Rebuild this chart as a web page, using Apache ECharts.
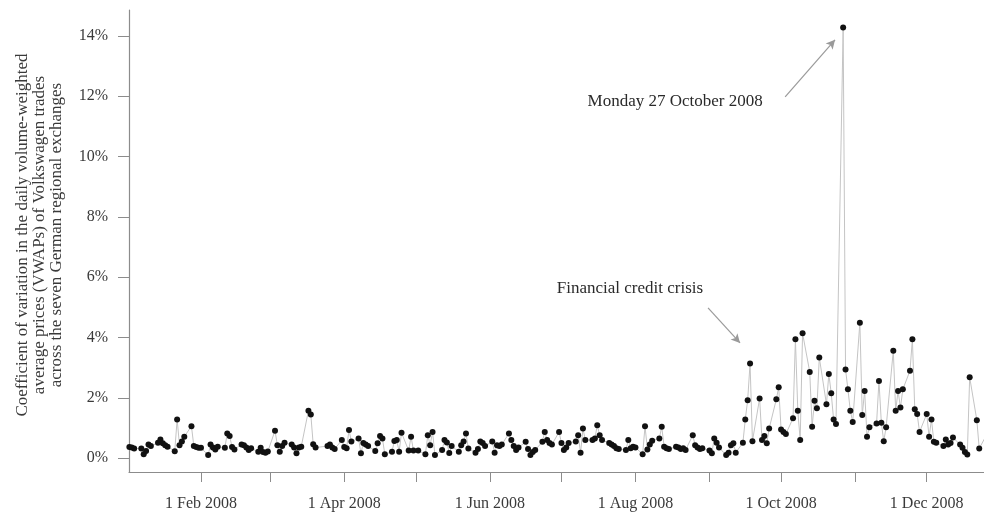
<!DOCTYPE html>
<html>
<head>
<meta charset="utf-8">
<script src="https://cdn.jsdelivr.net/npm/echarts@6/dist/echarts.min.js"></script>
<style>
  html, body { margin: 0; padding: 0; background: #ffffff; }
  #chart { width: 984px; height: 515px; }
</style>
</head>
<body>
<div id="chart"></div>
<script>
// Exchange closing days in 2008 (no trading on these weekdays)
const holidays = ['2008-01-01', '2008-03-21', '2008-03-24', '2008-05-01',
                  '2008-12-24', '2008-12-25', '2008-12-26', '2008-12-31'];

// Coefficient of variation (%) of daily VWAPs, one value per trading day, by month
const jan = [0.37, 0.35, 0.32, 0.32, 0.13, 0.24, 0.45, 0.40, 0.51, 0.62, 0.49, 0.43, 0.38, 0.23, 1.28, 0.43, 0.55, 0.71, 1.06, 0.40, 0.37, 0.34];
const feb = [0.34, 0.10, 0.45, 0.35, 0.29, 0.38, 0.34, 0.82, 0.73, 0.37, 0.29, 0.45, 0.43, 0.35, 0.27, 0.33, 0.21, 0.34, 0.20, 0.18, 0.22];
const mar = [0.91, 0.43, 0.21, 0.40, 0.51, 0.45, 0.35, 0.16, 0.35, 0.38, 1.57, 1.45, 0.46, 0.35, 0.40, 0.45, 0.35, 0.30, 0.60];
const apr = [0.37, 0.33, 0.93, 0.55, 0.65, 0.16, 0.50, 0.45, 0.40, 0.24, 0.49, 0.73, 0.65, 0.13, 0.21, 0.57, 0.60, 0.21, 0.84, 0.25, 0.71, 0.25];
const may = [0.25, 0.13, 0.76, 0.43, 0.87, 0.10, 0.27, 0.60, 0.52, 0.17, 0.40, 0.21, 0.43, 0.55, 0.82, 0.32, 0.18, 0.30, 0.55, 0.50, 0.40];
const jun = [0.55, 0.18, 0.43, 0.40, 0.45, 0.82, 0.60, 0.40, 0.27, 0.35, 0.54, 0.30, 0.10, 0.20, 0.27, 0.54, 0.87, 0.60, 0.50, 0.45, 0.87];
const jul = [0.50, 0.27, 0.35, 0.50, 0.55, 0.76, 0.18, 0.98, 0.60, 0.60, 0.65, 1.09, 0.76, 0.60, 0.50, 0.45, 0.40, 0.33, 0.30, 0.27, 0.60, 0.33, 0.38];
const aug = [0.35, 0.13, 1.06, 0.29, 0.45, 0.58, 0.65, 1.04, 0.38, 0.33, 0.30, 0.38, 0.35, 0.30, 0.33, 0.27, 0.76, 0.43, 0.35, 0.30, 0.33];
const sep = [0.25, 0.16, 0.65, 0.51, 0.35, 0.10, 0.18, 0.43, 0.49, 0.18, 0.51, 1.28, 1.92, 3.14, 0.56, 1.98, 0.60, 0.73, 0.49, 0.98, 1.95, 2.35];
const oct = [0.95, 0.87, 0.80, 1.32, 3.94, 1.57, 0.60, 4.14, 2.86, 1.04, 1.90, 1.65, 3.34, 1.79, 2.79, 2.15, 1.28, 1.13, 14.28, 2.94, 2.28, 1.57, 1.20];
const nov = [4.49, 1.43, 2.23, 0.71, 1.02, 1.15, 2.56, 1.17, 0.56, 1.02, 3.56, 1.57, 2.23, 1.68, 2.28, 2.90, 3.94, 1.62, 1.46, 0.87];
const dec = [1.46, 0.71, 1.28, 0.54, 0.51, 0.40, 0.62, 0.45, 0.50, 0.68, 0.45, 0.34, 0.20, 0.12, 2.68, 1.26, 0.32, 1.20, 0.80];

// Axis ticks: every month start; labels on every second month
const tickDates  = ['2008-02-01', '2008-03-01', '2008-04-01', '2008-05-01', '2008-06-01', '2008-07-01',
                    '2008-08-01', '2008-09-01', '2008-10-01', '2008-11-01', '2008-12-01'];
const labelDates = ['2008-02-01', '2008-04-01', '2008-06-01', '2008-08-01', '2008-10-01', '2008-12-01'];
const yTicks = [0, 2, 4, 6, 8, 10, 12, 14];
const monthNames = ['Jan', 'Feb', 'Mar', 'Apr', 'May', 'Jun', 'Jul', 'Aug', 'Sep', 'Oct', 'Nov', 'Dec'];
const yTitle = ['Coefficient of variation in the daily volume-weighted',
                'average prices (VWAPs) of Volkswagen trades',
                'across the seven German regional exchanges'];

const DAY = 86400000;
const ts = s => Date.parse(s + 'T00:00:00Z');
const yearStart = ts('2008-01-01');

// Trading-day calendar: weekdays of 2008 that are not exchange holidays
const tradingDays = [];
for (let t = yearStart; t <= ts('2008-12-31'); t += DAY) {
  const d = new Date(t);
  const wd = d.getUTCDay();
  const iso = d.toISOString().slice(0, 10);
  if (wd !== 0 && wd !== 6 && holidays.indexOf(iso) < 0) tradingDays.push(t);
}
const values = [].concat(jan, feb, mar, apr, may, jun, jul, aug, sep, oct, nov, dec);
const seriesData = tradingDays.map((t, i) => [t, values[i]]);

const serif = '"Liberation Serif", "DejaVu Serif", serif';
const axisGrey = '#8c8c8c';
const textGrey = '#3a3a3a';

const chart = echarts.init(document.getElementById('chart'), null, { renderer: 'canvas' });
chart.setOption({
  animation: false,
  backgroundColor: '#ffffff',
  grid: { left: 129, right: 0, top: 10, bottom: 43, containLabel: false, outerBoundsMode: 'none' },
  xAxis: {
    type: 'value',
    min: yearStart + 0.84 * DAY,
    max: ts('2008-12-25'),
    axisLine: { show: true, onZero: false, lineStyle: { color: axisGrey, width: 1.2 } },
    axisTick: { show: true, length: 10, customValues: tickDates.map(ts), lineStyle: { color: axisGrey } },
    splitLine: { show: false },
    axisLabel: {
      customValues: labelDates.map(ts),
      margin: 24,
      fontFamily: serif,
      fontSize: 16,
      color: textGrey,
      formatter: v => {
        const d = new Date(v);
        return d.getUTCDate() + ' ' + monthNames[d.getUTCMonth()] + ' ' + d.getUTCFullYear();
      }
    }
  },
  yAxis: {
    type: 'value',
    min: -0.46,
    max: 14.86,
    axisLine: { show: true, onZero: false, lineStyle: { color: axisGrey, width: 1.2 } },
    axisTick: { show: true, length: 11, customValues: yTicks, lineStyle: { color: axisGrey } },
    splitLine: { show: false },
    axisLabel: {
      customValues: yTicks,
      margin: 21,
      fontFamily: serif,
      fontSize: 16,
      color: textGrey,
      formatter: v => v + '%'
    }
  },
  graphic: [{
    type: 'text',
    x: 40,
    y: 235,
    rotation: Math.PI / 2,
    silent: true,
    style: {
      text: yTitle.join('\n'),
      fontFamily: serif,
      fontSize: 17,
      lineHeight: 17,
      fill: textGrey,
      align: 'center',
      verticalAlign: 'middle'
    }
  }],
  series: [{
    type: 'line',
    data: seriesData,
    symbol: 'circle',
    symbolSize: 6,
    showAllSymbol: true,
    clip: true,
    itemStyle: { color: '#111111' },
    lineStyle: { color: '#c4c4c4', width: 1 },
    emphasis: { disabled: true },
    markLine: {
      silent: true,
      symbol: ['none', 'arrow'],
      symbolSize: [7, 9],
      label: { show: false },
      lineStyle: { color: '#9a9a9a', width: 1.2, type: 'solid' },
      data: [
        [{ coord: [yearStart + 275.7 * DAY, 11.98] }, { coord: [yearStart + 296.6 * DAY, 13.87] }],
        [{ coord: [yearStart + 243.4 * DAY, 4.98] },  { coord: [yearStart + 256.8 * DAY, 3.82] }]
      ]
    },
    markPoint: {
      silent: true,
      symbol: 'circle',
      symbolSize: 0,
      label: { show: true, position: 'inside', fontFamily: serif, fontSize: 17, color: '#2a2a2a' },
      data: [
        { coord: [yearStart + 229.6 * DAY, 11.81], label: { formatter: 'Monday 27 October 2008' } },
        { coord: [yearStart + 210.7 * DAY, 5.64],  label: { formatter: 'Financial credit crisis' } }
      ]
    }
  }]
});
</script>
</body>
</html>
